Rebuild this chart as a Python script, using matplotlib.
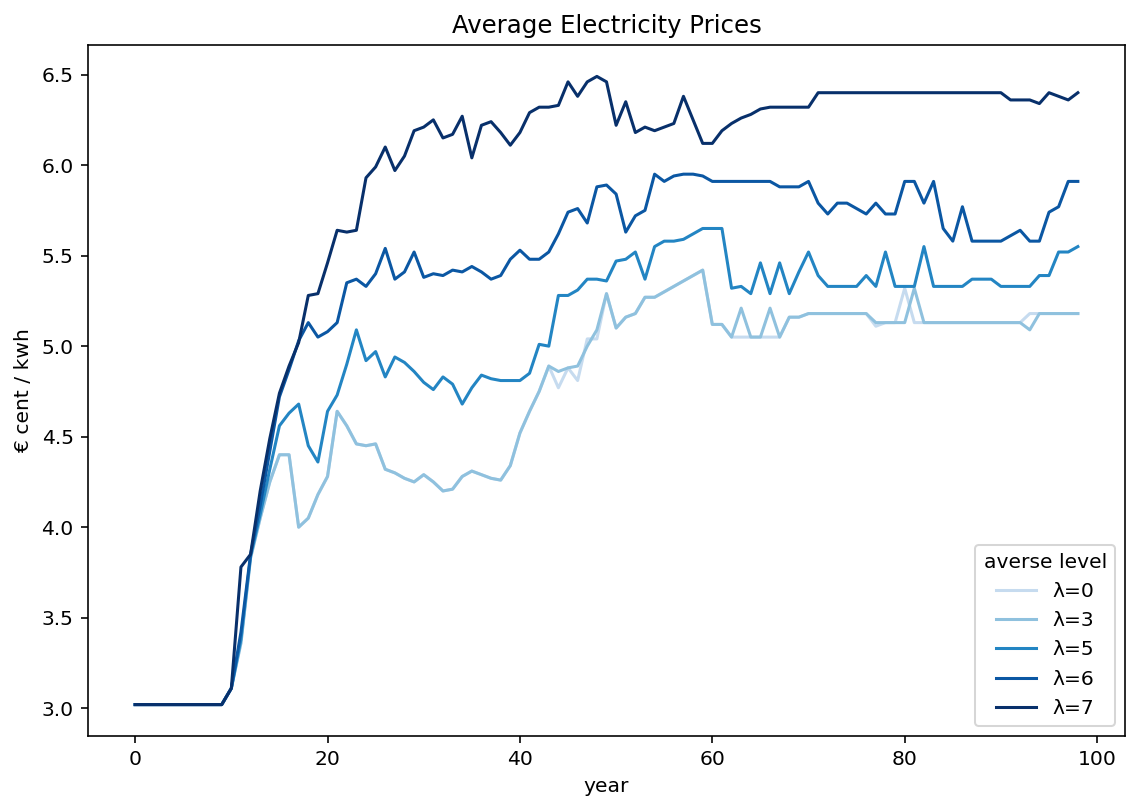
# -*- coding: UTF-8 -*-
"""
Average electricity prices for different averse levels
"""

import matplotlib
matplotlib.use('Agg')
import matplotlib.pyplot as plt

# 年份
years = list(range(99))

# 各风险厌恶水平下的平均电价 (€ cent / kwh)
start = [3.02] * 10 + [3.11]

price_l7 = start + [
    3.78, 3.85, 4.20, 4.49, 4.74, 4.89, 5.02, 5.28, 5.29, 5.46,
    5.64, 5.63, 5.64, 5.93, 5.99, 6.10, 5.97, 6.05, 6.19, 6.21,
    6.25, 6.15, 6.17, 6.27, 6.04, 6.22, 6.24, 6.18, 6.11, 6.18,
    6.29, 6.32, 6.32, 6.33, 6.46, 6.38, 6.46, 6.49, 6.46, 6.22,
    6.35, 6.18, 6.21, 6.19, 6.21, 6.23, 6.38, 6.25, 6.12, 6.12,
    6.19, 6.23, 6.26, 6.28, 6.31, 6.32, 6.32, 6.32, 6.32, 6.32,
    6.40, 6.40, 6.40, 6.40, 6.40, 6.40, 6.40, 6.40, 6.40, 6.40,
    6.40, 6.40, 6.40, 6.40, 6.40, 6.40, 6.40, 6.40, 6.40, 6.40,
    6.36, 6.36, 6.36, 6.34, 6.40, 6.38, 6.36, 6.40]

price_l6 = start + [
    3.42, 3.85, 4.12, 4.42, 4.72, 4.87, 5.03, 5.13, 5.05, 5.08,
    5.13, 5.35, 5.37, 5.33, 5.40, 5.54, 5.37, 5.41, 5.52, 5.38,
    5.40, 5.39, 5.42, 5.41, 5.44, 5.41, 5.37, 5.39, 5.48, 5.53,
    5.48, 5.48, 5.52, 5.62, 5.74, 5.76, 5.68, 5.88, 5.89, 5.84,
    5.63, 5.72, 5.75, 5.95, 5.91, 5.94, 5.95, 5.95, 5.94, 5.91,
    5.91, 5.91, 5.91, 5.91, 5.91, 5.91, 5.88, 5.88, 5.88, 5.91,
    5.79, 5.73, 5.79, 5.79, 5.76, 5.73, 5.79, 5.73, 5.73, 5.91,
    5.91, 5.79, 5.91, 5.65, 5.58, 5.77, 5.58, 5.58, 5.58, 5.58,
    5.61, 5.64, 5.58, 5.58, 5.74, 5.77, 5.91, 5.91]

price_l5 = start + [
    3.38, 3.84, 4.07, 4.32, 4.56, 4.63, 4.68, 4.45, 4.36, 4.64,
    4.73, 4.90, 5.09, 4.92, 4.97, 4.83, 4.94, 4.91, 4.86, 4.80,
    4.76, 4.83, 4.79, 4.68, 4.77, 4.84, 4.82, 4.81, 4.81, 4.81,
    4.85, 5.01, 5.00, 5.28, 5.28, 5.31, 5.37, 5.37, 5.36, 5.47,
    5.48, 5.52, 5.37, 5.55, 5.58, 5.58, 5.59, 5.62, 5.65, 5.65,
    5.65, 5.32, 5.33, 5.29, 5.46, 5.29, 5.46, 5.29, 5.41, 5.52,
    5.39, 5.33, 5.33, 5.33, 5.33, 5.39, 5.33, 5.52, 5.33, 5.33,
    5.33, 5.55, 5.33, 5.33, 5.33, 5.33, 5.37, 5.37, 5.37, 5.33,
    5.33, 5.33, 5.33, 5.39, 5.39, 5.52, 5.52, 5.55]

price_l3 = start + [
    3.36, 3.83, 4.05, 4.25, 4.40, 4.40, 4.00, 4.05, 4.18, 4.28,
    4.64, 4.56, 4.46, 4.45, 4.46, 4.32, 4.30, 4.27, 4.25, 4.29,
    4.25, 4.20, 4.21, 4.28, 4.31, 4.29, 4.27, 4.26, 4.34, 4.52,
    4.64, 4.75, 4.89, 4.86, 4.88, 4.89, 5.00, 5.09, 5.29, 5.10,
    5.16, 5.18, 5.27, 5.27, 5.30, 5.33, 5.36, 5.39, 5.42, 5.12,
    5.12, 5.05, 5.21, 5.05, 5.05, 5.21, 5.05, 5.16, 5.16, 5.18,
    5.18, 5.18, 5.18, 5.18, 5.18, 5.18, 5.13, 5.13, 5.13, 5.13,
    5.32, 5.13, 5.13, 5.13, 5.13, 5.13, 5.13, 5.13, 5.13, 5.13,
    5.13, 5.13, 5.09, 5.18, 5.18, 5.18, 5.18, 5.18]

price_l0 = start + [
    3.36, 3.83, 4.05, 4.25, 4.40, 4.40, 4.00, 4.05, 4.18, 4.28,
    4.64, 4.56, 4.46, 4.45, 4.46, 4.32, 4.30, 4.27, 4.25, 4.29,
    4.25, 4.20, 4.21, 4.28, 4.31, 4.29, 4.27, 4.26, 4.34, 4.52,
    4.64, 4.75, 4.89, 4.77, 4.88, 4.81, 5.04, 5.04, 5.29, 5.10,
    5.16, 5.18, 5.27, 5.27, 5.30, 5.33, 5.36, 5.39, 5.42, 5.12,
    5.12, 5.05, 5.05, 5.05, 5.05, 5.05, 5.05, 5.16, 5.16, 5.18,
    5.18, 5.18, 5.18, 5.18, 5.18, 5.18, 5.11, 5.13, 5.13, 5.32,
    5.13, 5.13, 5.13, 5.13, 5.13, 5.13, 5.13, 5.13, 5.13, 5.13,
    5.13, 5.13, 5.18, 5.18, 5.18, 5.18, 5.18, 5.18]

labels = ['λ=0', 'λ=3', 'λ=5', 'λ=6', 'λ=7']
series = [price_l0, price_l3, price_l5, price_l6, price_l7]
colors = ['#c6dbef', '#8fc1de', '#2385c3', '#0b57a3', '#08306b']

# 画图
fig = plt.figure(figsize=(1126 / 146, 799 / 146), dpi=146)
ax = fig.add_axes([88 / 1126, 63 / 799, 1037 / 1126, 691 / 799])

for y, lab, c in zip(series, labels, colors):
    ax.plot(years, y, color=c, label=lab)

ax.set_title('Average Electricity Prices')
ax.set_xlabel('year')
ax.set_ylabel('€ cent / kwh')
ax.legend(title='averse level', loc='lower right')

# 保存图片
fig.savefig('out.png', dpi=146)
